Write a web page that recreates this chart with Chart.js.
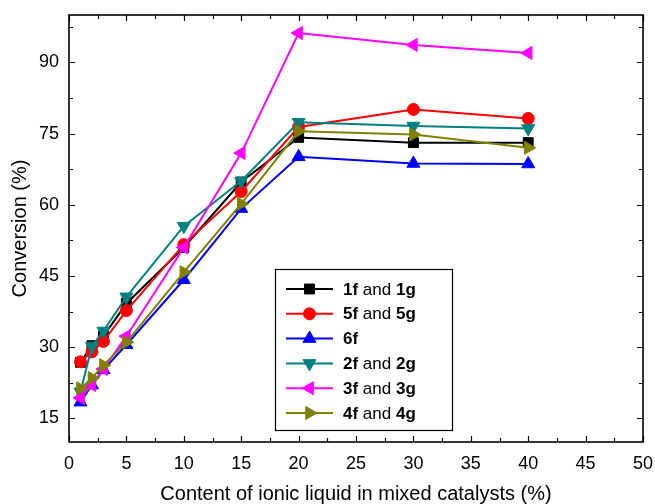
<!DOCTYPE html>
<html>
<head>
<meta charset="utf-8">
<script src="https://cdn.jsdelivr.net/npm/chart.js@4/dist/chart.umd.min.js"></script>
<style>
  html, body { margin: 0; padding: 0; background: #fff; }
  #wrap { width: 655px; height: 504px; }
</style>
</head>
<body>
<div id="wrap"><canvas id="c" width="655" height="504"></canvas></div>
<script>
// Ionic liquid content (%) in the mixed catalysts
const contents = [1, 2, 3, 5, 10, 15, 20, 30, 40];

// Conversion (%) for each catalyst pair
const conv1f1g = [26.8, 30.3, 32.3, 39.2, 51.0, 64.8, 74.2, 73.1, 73.1];
const conv5f5g = [26.9, 29.0, 31.2, 37.7, 51.6, 62.8, 76.4, 80.1, 78.2];
const conv6f   = [18.4, 22.0, 25.2, 30.5, 44.2, 59.2, 70.1, 68.7, 68.6];
const conv2f2g = [20.6, 30.2, 33.4, 40.6, 55.5, 65.0, 77.4, 76.6, 76.1];
const conv3f3g = [19.3, 22.0, 25.4, 32.3, 51.0, 70.9, 96.2, 93.7, 92.0];
const conv4f4g = [21.3, 23.5, 26.2, 31.0, 45.8, 60.2, 75.5, 74.8, 72.0];

// Legend names: [bold, regular, bold]
const seriesNames = [
  ['1f', ' and ', '1g'],
  ['5f', ' and ', '5g'],
  ['6f', '', ''],
  ['2f', ' and ', '2g'],
  ['3f', ' and ', '3g'],
  ['4f', ' and ', '4g']
];

const yTickValues = [15, 30, 45, 60, 75, 90];
const xTickStep = 5;

const FONT = '"Liberation Sans", Arial, Helvetica, sans-serif';

const styles = [
  { color: '#000000', pointStyle: 'rect',     rotation: 0,   radius: 7 },
  { color: '#ff0000', pointStyle: 'circle',   rotation: 0,   radius: 6 },
  { color: '#0000ff', pointStyle: 'triangle', rotation: 0,   radius: 7.5 },
  { color: '#008080', pointStyle: 'triangle', rotation: 180, radius: 7.5 },
  { color: '#ff00ff', pointStyle: 'triangle', rotation: 270, radius: 7.5 },
  { color: '#808000', pointStyle: 'triangle', rotation: 90,  radius: 7.5 }
];

const seriesValues = [conv1f1g, conv5f5g, conv6f, conv2f2g, conv3f3g, conv4f4g];

const datasets = seriesValues.map((vals, i) => ({
  label: seriesNames[i].join(''),
  data: contents.map((x, j) => ({ x: x, y: vals[j] })),
  borderColor: styles[i].color,
  backgroundColor: styles[i].color,
  borderWidth: 2,
  pointStyle: styles[i].pointStyle,
  pointRotation: styles[i].rotation,
  pointRadius: styles[i].radius,
  pointHoverRadius: styles[i].radius,
  pointBorderWidth: 1,
  pointBorderColor: styles[i].color,
  pointBackgroundColor: styles[i].color,
  tension: 0,
  fill: false,
  order: seriesValues.length - i
}));

// Frame with inward major/minor ticks on all four sides
const framePlugin = {
  id: 'frame',
  afterDraw(chart) {
    const { ctx, chartArea: a, scales } = chart;
    const xs = scales.x, ys = scales.y;
    ctx.save();
    ctx.strokeStyle = '#000';
    ctx.lineWidth = 1.6;
    ctx.strokeRect(a.left, a.top, a.right - a.left, a.bottom - a.top);
    ctx.lineWidth = 1.2;
    ctx.beginPath();
    const majorLen = 6, minorLen = 4;
    for (let v = xs.min; v <= xs.max + 1e-9; v += xTickStep / 2) {
      const px = Math.round(xs.getPixelForValue(v)) + 0.5;
      const len = (Math.abs(v / xTickStep - Math.round(v / xTickStep)) < 1e-6) ? majorLen : minorLen;
      ctx.moveTo(px, a.bottom); ctx.lineTo(px, a.bottom - len);
      ctx.moveTo(px, a.top); ctx.lineTo(px, a.top + len);
    }
    const yStep = yTickValues[1] - yTickValues[0];
    for (let v = yTickValues[0] - yStep / 2; v <= ys.max + 1e-9; v += yStep / 2) {
      if (v < ys.min) continue;
      const py = Math.round(ys.getPixelForValue(v)) + 0.5;
      const len = (Math.abs(v / yStep - Math.round(v / yStep)) < 1e-6) ? majorLen : minorLen;
      ctx.moveTo(a.left, py); ctx.lineTo(a.left + len, py);
      ctx.moveTo(a.right, py); ctx.lineTo(a.right - len, py);
    }
    ctx.stroke();
    ctx.restore();
  }
};

// Boxed legend with bold catalyst labels
const legendPlugin = {
  id: 'boxLegend',
  afterDraw(chart) {
    const { ctx } = chart;
    const box = { left: 275, top: 269, right: 452, bottom: 430 };
    const rowTop = 289, rowGap = 24.8;
    ctx.save();
    ctx.fillStyle = '#fff';
    ctx.fillRect(box.left, box.top, box.right - box.left, box.bottom - box.top);
    chart.data.datasets.forEach((ds, i) => {
      const y = rowTop + i * rowGap;
      ctx.strokeStyle = ds.borderColor;
      ctx.lineWidth = 2;
      ctx.beginPath();
      ctx.moveTo(286, y); ctx.lineTo(333, y);
      ctx.stroke();
      ctx.fillStyle = ds.pointBackgroundColor;
      ctx.strokeStyle = ds.pointBorderColor;
      ctx.lineWidth = 1;
      Chart.helpers.drawPoint(ctx, {
        pointStyle: ds.pointStyle,
        rotation: ds.pointRotation,
        radius: ds.pointRadius,
        borderWidth: 1
      }, 309.5, y);
      const parts = seriesNames[i];
      let x = 343;
      ctx.fillStyle = '#000';
      ctx.textBaseline = 'middle';
      ctx.textAlign = 'left';
      parts.forEach((t, k) => {
        if (!t) return;
        ctx.font = (k === 1 ? '' : 'bold ') + '17px ' + FONT;
        ctx.fillText(t, x, y + 1);
        x += ctx.measureText(t).width;
      });
    });
    ctx.strokeStyle = '#000';
    ctx.lineWidth = 1.2;
    ctx.strokeRect(box.left + 0.5, box.top + 0.5, box.right - box.left, box.bottom - box.top);
    ctx.restore();
  }
};

new Chart(document.getElementById('c'), {
  type: 'line',
  data: { datasets: datasets },
  options: {
    responsive: false,
    animation: false,
    events: [],
    layout: { padding: { left: 0, right: 12, top: 15, bottom: 0 } },
    plugins: {
      legend: { display: false },
      tooltip: { enabled: false }
    },
    scales: {
      x: {
        type: 'linear',
        min: 0,
        max: 50,
        ticks: { stepSize: xTickStep, color: '#000', font: { family: FONT, size: 18 }, padding: 11, maxRotation: 0 },
        grid: { display: false, drawTicks: false },
        border: { display: false },
        title: {
          display: true,
          text: 'Content of ionic liquid in mixed catalysts (%)',
          color: '#000',
          font: { family: FONT, size: 20 },
          padding: { top: 0, bottom: -2 }
        },
        afterFit(scale) {
          scale.height = 62;
          scale.paddingLeft = 0;
          scale.paddingRight = 0;
        }
      },
      y: {
        type: 'linear',
        min: 10,
        max: 100,
        afterBuildTicks(scale) { scale.ticks = yTickValues.map(v => ({ value: v })); },
        ticks: { color: '#000', font: { family: FONT, size: 18 }, padding: 10 },
        grid: { display: false, drawTicks: false },
        border: { display: false },
        title: {
          display: true,
          text: 'Conversion (%)',
          color: '#000',
          font: { family: FONT, size: 20 },
          padding: { top: 8, bottom: 0 }
        },
        afterFit(scale) {
          scale.width = 69;
          scale.paddingTop = 0;
          scale.paddingBottom = 0;
        }
      }
    }
  },
  plugins: [framePlugin, legendPlugin]
});
</script>
</body>
</html>
